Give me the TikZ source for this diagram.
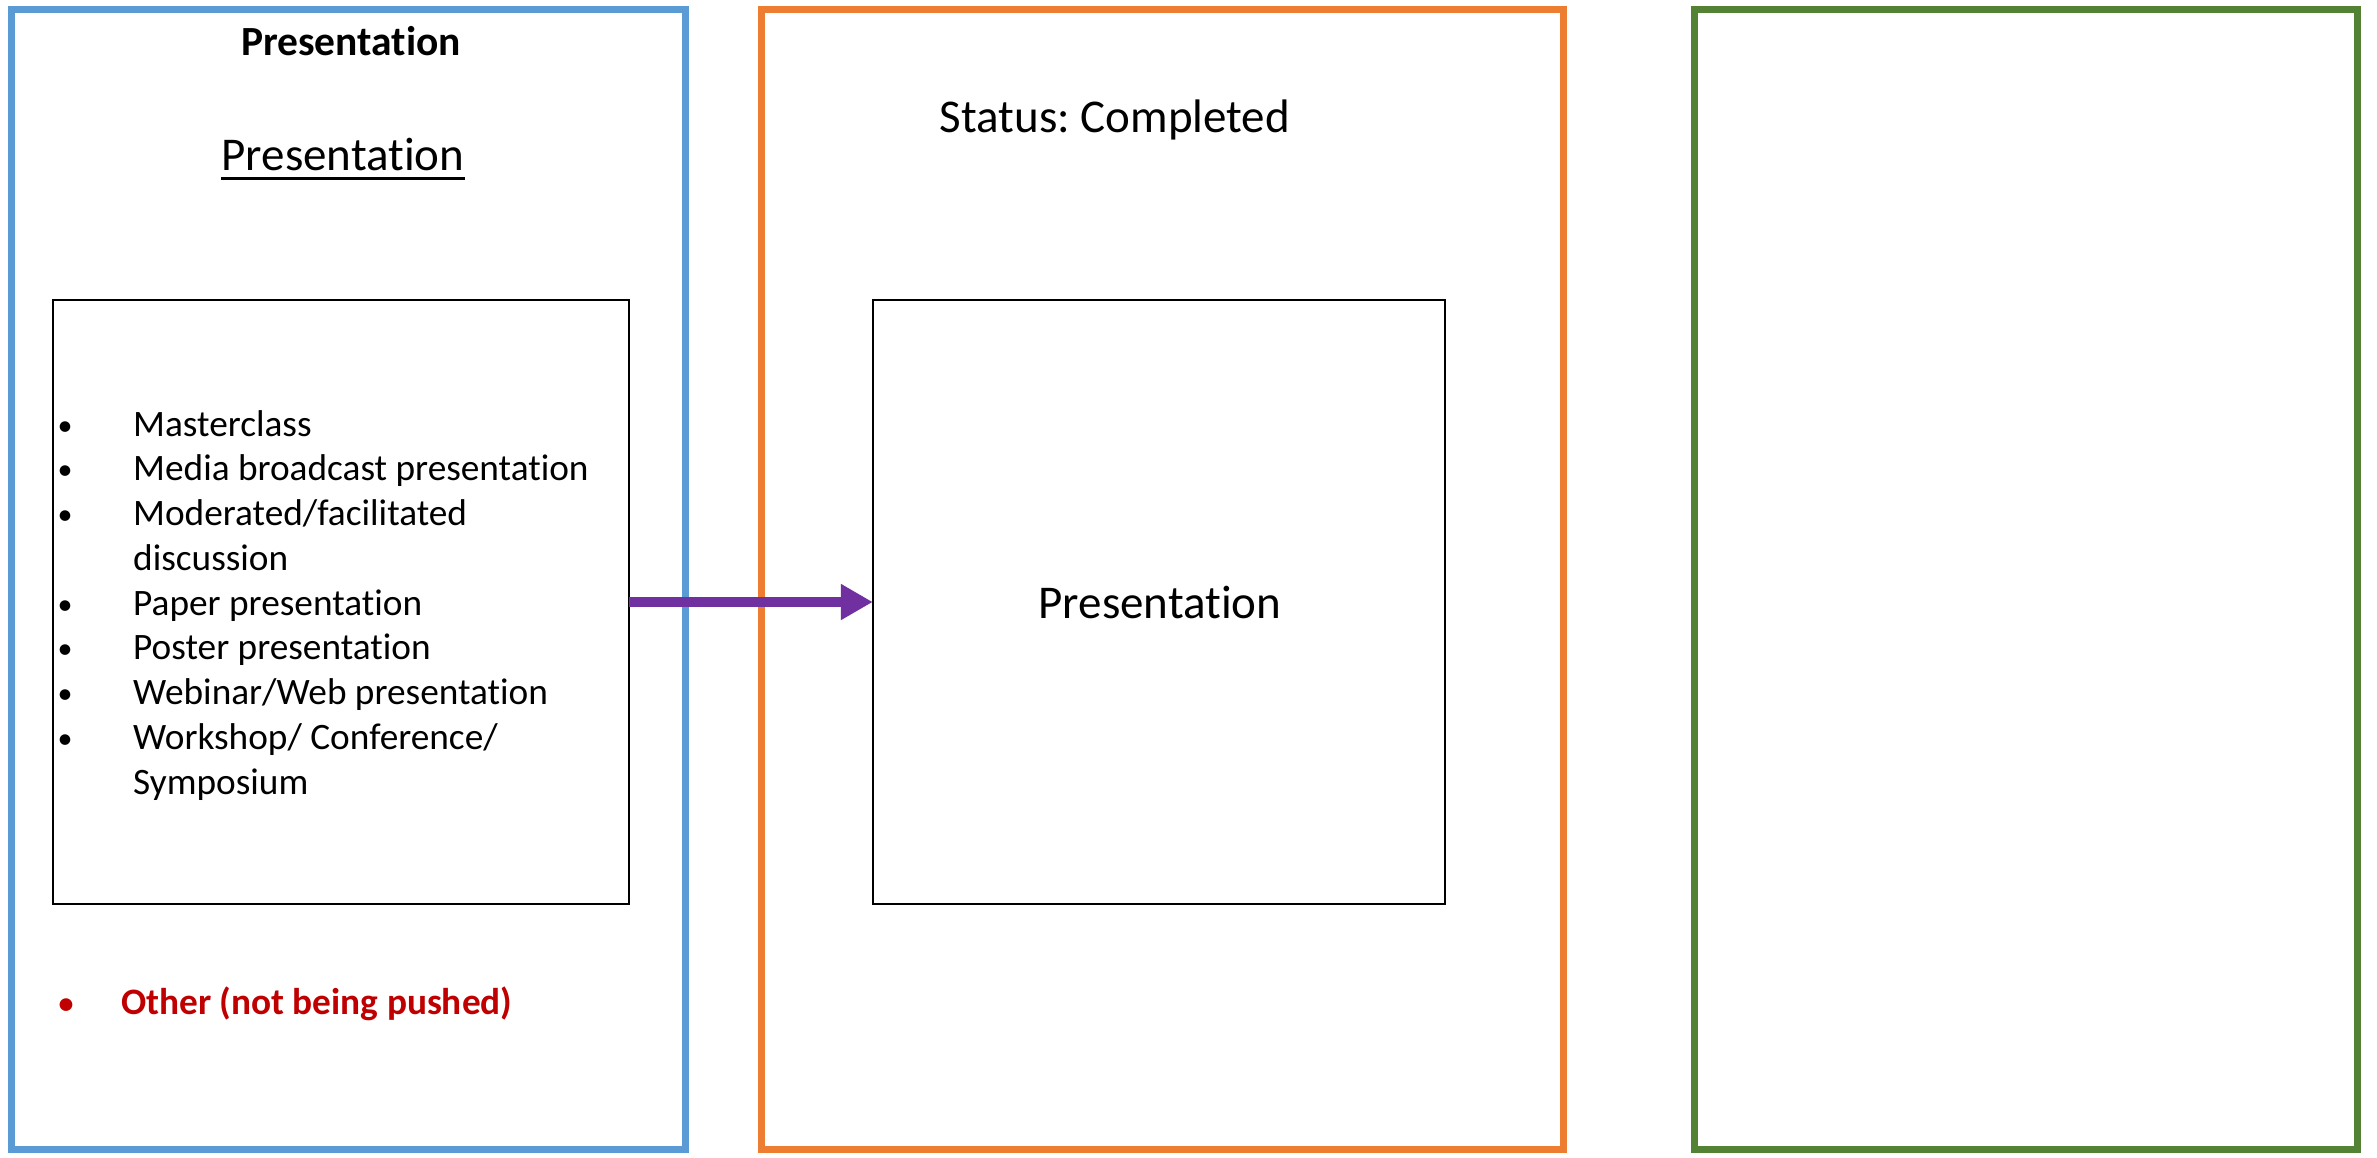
\documentclass[tikz,border=0pt]{standalone}
\usepackage{fontspec}
\setmainfont{Carlito}[Ligatures=NoCommon]
\usetikzlibrary{arrows.meta}
\definecolor{frameblue}{HTML}{5B9BD5}
\definecolor{frameorange}{HTML}{ED7D31}
\definecolor{framegreen}{HTML}{548235}
\definecolor{arrowpurple}{HTML}{7030A0}
\definecolor{otherred}{HTML}{C00000}
\newcommand\mydot{\makebox[0pt]{\hspace*{6pt}\fontsize{30}{30}\selectfont\raisebox{1pt}{•}}}
\newcommand\myblt{\mydot\hspace*{71pt}}
\newcommand\mynob{\hspace*{71pt}}
\frenchspacing
\tikzset{
  frame/.style={line width=7pt},
  innerbox/.style={draw=black, line width=2.5pt, fill=none},
  txt/.style={inner sep=0pt, anchor=base},
}
\begin{document}
\frenchspacing
\begin{tikzpicture}[x=1pt,y=-1pt]
\useasboundingbox (0,0) rectangle (2377,1157);
\fill[white] (0,0) rectangle (2377,1157);
% frames
\draw[frame, frameblue] (11,9) rectangle (685,1149);
\draw[frame, frameorange] (761,9) rectangle (1563,1149);
\draw[frame, framegreen] (1694,9) rectangle (2357,1149);
% inner boxes
\coordinate (lb1) at (53,300);
\coordinate (lb2) at (629,904);
\coordinate (mb1) at (873,300);
\coordinate (mb2) at (1445,904);
\draw[innerbox] (lb1) rectangle (lb2);
\draw[innerbox] (mb1) rectangle (mb2);
\node[inner sep=0pt, minimum width=576pt, minimum height=604pt] (leftbox) at (341,602) {};
\node[inner sep=0pt, minimum width=572pt, minimum height=604pt] (midbox) at (1159,602) {};
% titles
\node[txt, font=\fontsize{41.5}{49}\selectfont\bfseries\frenchspacing] (title) at (351,55) {Presentation};
\node[txt, font=\fontsize{47}{56}\selectfont\frenchspacing] (utitle) at (343,170) {Presentation};
\draw[line width=3pt] ([yshift=-8pt]utitle.base west) -- ([yshift=-8pt]utitle.base east);
\node[txt, font=\fontsize{47}{56}\selectfont\frenchspacing] (status) at (1115,132) {Status: Completed};
\node[txt, font=\fontsize{47}{56}\selectfont\frenchspacing] (midtext) at (1160,618) {Presentation};
% list
\node[inner sep=0pt, anchor=base west, font=\fontsize{37.3}{44.75}\selectfont\frenchspacing] (items) at (62,436) {%
\begin{tabular}[t]{@{}l@{}}
\myblt Masterclass\\
\myblt Media broadcast presentation\\
\myblt Moderated/facilitated\\
\mynob discussion\\
\myblt Paper presentation\\
\myblt Poster presentation\\
\myblt Webinar/Web presentation\\
\myblt Workshop/ Conference/\\
\mynob Symposium
\end{tabular}};
\node[inner sep=0pt, anchor=base west, font=\fontsize{37.3}{44.75}\selectfont\bfseries\frenchspacing, text=otherred] (other) at (63,1014) {\mydot\hspace*{58pt}Other (not being pushed)};
% arrow
\draw[arrowpurple, line width=10pt, -{Triangle[length=32pt,width=34pt]}] (leftbox.east) -- (midbox.west);
\end{tikzpicture}
\end{document}
